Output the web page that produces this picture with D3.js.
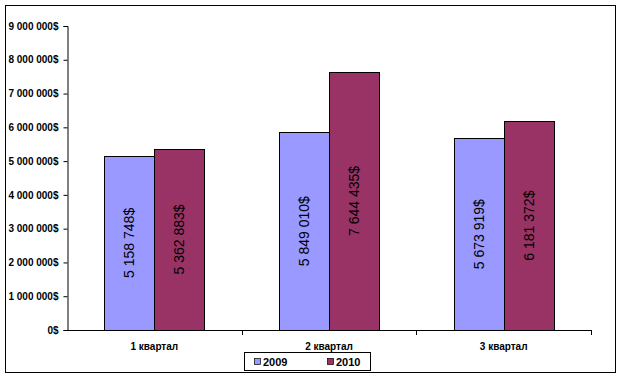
<!DOCTYPE html>
<html><head><meta charset="utf-8">
<script src="https://cdn.jsdelivr.net/npm/d3@7"></script>
<style>body{margin:0;background:#fff}svg{display:block}text{font-family:Arial,"Liberation Sans",sans-serif}</style>
</head><body><svg id="c" width="624" height="381"></svg>
<script>
const categories = ["1 квартал", "2 квартал", "3 квартал"];
const seriesNames = ["2009", "2010"];
const values2009 = [5158748, 5849010, 5673919];
const values2010 = [5362883, 7644435, 6181372];
const labels2009 = ["5 158 748$", "5 849 010$", "5 673 919$"];
const labels2010 = ["5 362 883$", "7 644 435$", "6 181 372$"];
const yTicks = [0, 1000000, 2000000, 3000000, 4000000, 5000000, 6000000, 7000000, 8000000, 9000000];
const colors = ["#9999FF", "#993366"];

const svg = d3.select("#c");
svg.append("rect").attr("x",5.5).attr("y",5.5).attr("width",610).attr("height",367)
  .attr("fill","#fff").attr("stroke","#000");

const pLeft = 67, pRight = 591, pTop = 26, pBottom = 330;
const x = d3.scaleBand().domain(categories).range([pLeft, pRight]).paddingInner(0).paddingOuter(0);
const xs = d3.scaleBand().domain(seriesNames).range([0, x.bandwidth()]).paddingInner(0).paddingOuter(0.7467);
const y = d3.scaleLinear().domain([0, 9000000]).range([pBottom, pTop]);

const fmt = v => d3.format(",")(v).replace(/,/g, " ") + "$";

// y axis
const ya = svg.append("g").attr("transform", `translate(${pLeft+0.5},0)`)
  .call(d3.axisLeft(y).tickValues(yTicks).tickSize(4).tickPadding(5).tickFormat(fmt));
ya.select(".domain").attr("stroke","#000");
ya.selectAll(".tick line").attr("stroke","#000");
ya.selectAll(".tick text").attr("font-size","10px").attr("font-weight","bold").attr("fill","#000");

const series = [values2009, values2010];
const labs = [labels2009, labels2010];
const data = [];
categories.forEach((c,i)=>seriesNames.forEach((s,j)=>data.push({c,s,v:series[j][i],lab:labs[j][i],col:colors[j]})));

const g = svg.append("g");
g.selectAll("rect").data(data).join("rect")
  .attr("x", d => Math.round(x(d.c) + xs(d.s)) + 0.5)
  .attr("y", d => Math.round(y(d.v)) + 0.5)
  .attr("width", d => Math.round(xs.bandwidth()))
  .attr("height", d => Math.round(pBottom - y(d.v)))
  .attr("fill", d => d.col).attr("stroke", "#000").attr("stroke-width", 1);

g.selectAll("text").data(data).join("text")
  .attr("transform", d => `translate(${x(d.c)+xs(d.s)+xs.bandwidth()/2+5},${(y(d.v)+pBottom)/2}) rotate(-90)`)
  .attr("text-anchor","middle").attr("font-size","14px").attr("fill","#000")
  .text(d => d.lab);

// x axis
const xa = svg.append("g").attr("transform", `translate(0,${pBottom+0.5})`)
  .call(d3.axisBottom(x).tickSize(0).tickPadding(12));
xa.select(".domain").attr("stroke","#000").attr("d", `M${pLeft},0H${pRight}`);
xa.selectAll(".tick text").attr("font-size","10px").attr("font-weight","bold").attr("fill","#000");
svg.append("g").selectAll("line").data(d3.range(1, categories.length+1)).join("line")
  .attr("x1", i => Math.round(pLeft + i*x.step())+0.5).attr("x2", i => Math.round(pLeft + i*x.step())+0.5)
  .attr("y1", pBottom).attr("y2", pBottom+5).attr("stroke","#000");

// legend
const lg = svg.append("g");
lg.append("rect").attr("x",244.5).attr("y",352.5).attr("width",126).attr("height",18).attr("fill","#fff").attr("stroke","#000");
const lx = [254, 327];
seriesNames.forEach((s,j)=>{
  lg.append("rect").attr("x",lx[j]+0.5).attr("y",358.5).attr("width",6).attr("height",6).attr("fill",colors[j]).attr("stroke","#000").attr("stroke-width",0.7);
  lg.append("text").attr("x",lx[j]+9).attr("y",366).attr("font-size","11px").attr("font-weight","bold").text(s);
});
</script></body></html>
